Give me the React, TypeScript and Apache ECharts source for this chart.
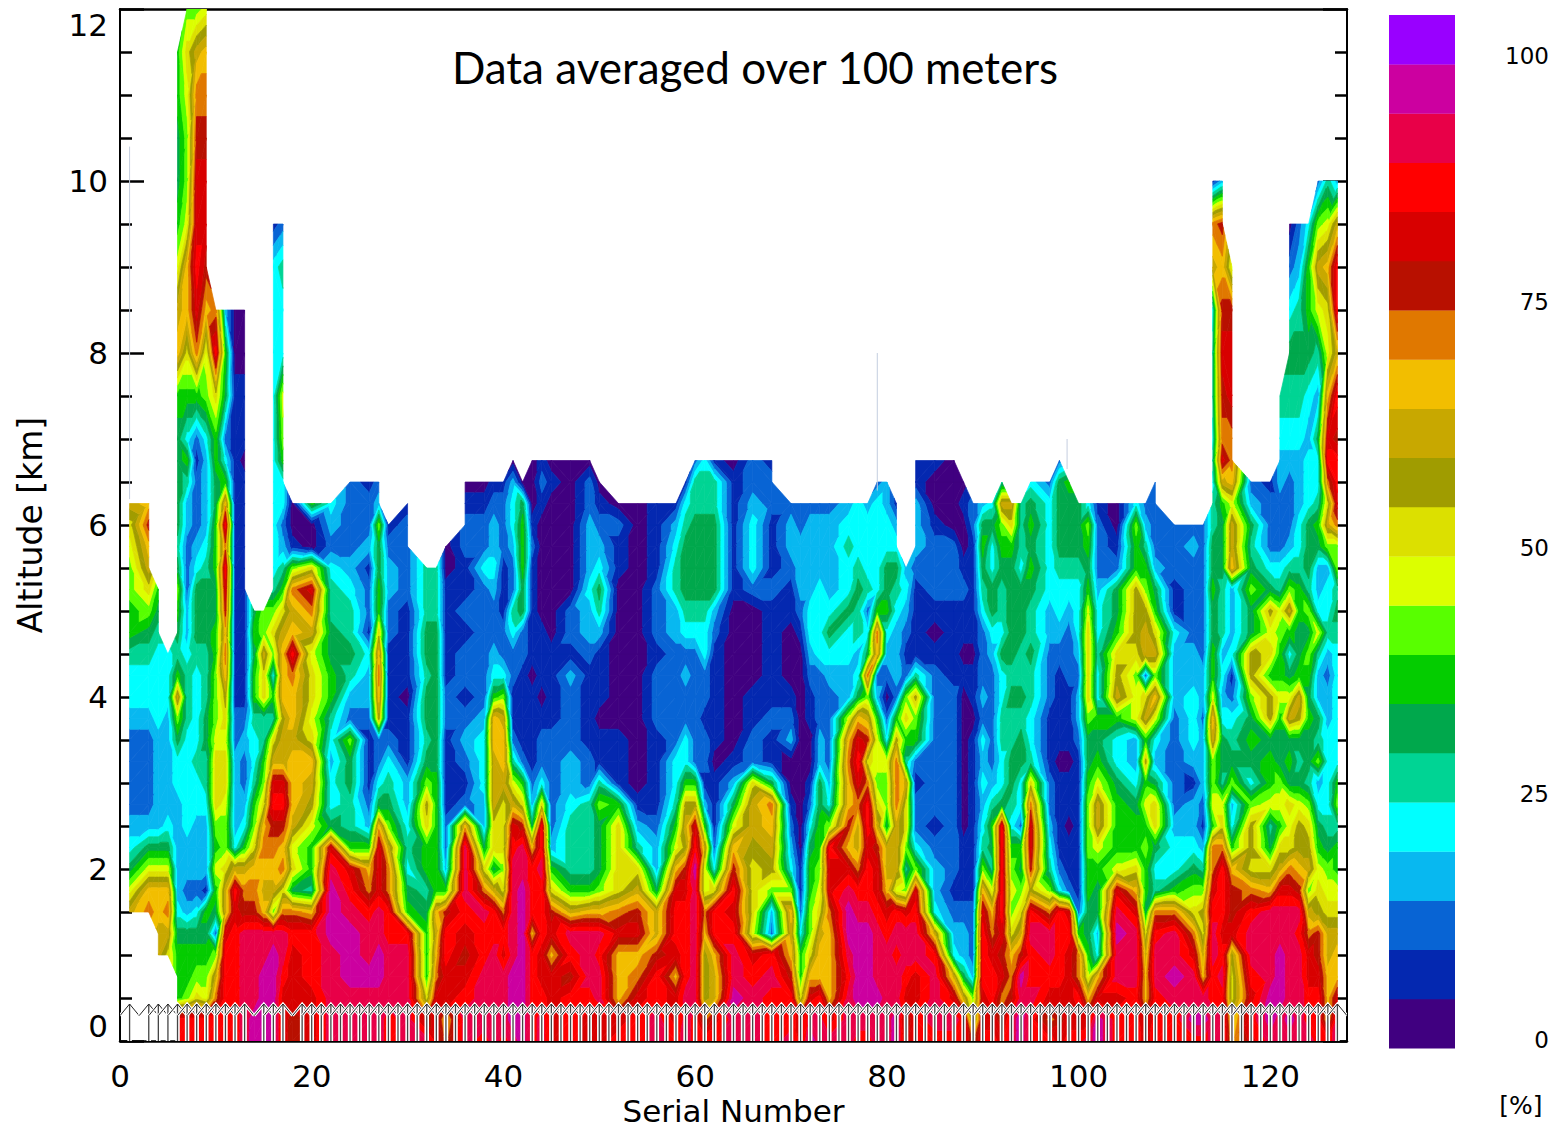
import React, { useEffect, useRef } from "react";
import * as echarts from "echarts";

// Altitude (km) of each row of the profiles below
const altitudes = [
  0, 0.25, 0.5, 0.75, 1, 1.25, 1.5, 1.75, 2, 2.25, 2.5, 2.75, 3, 3.25, 3.5, 3.75, 4, 4.25, 4.5, 4.75, 5, 5.25, 5.5,
  5.75, 6, 6.25, 6.5, 6.75, 7, 7.5, 8, 8.5, 9, 9.5, 10, 10.5, 11, 11.5, 12,
];

// Serial number of each profile
const serials = [
  1, 3, 4, 5, 6, 7, 8, 9, 10, 11, 12, 13, 14, 15, 16, 17, 18, 20, 22, 24, 26, 27, 28, 30, 32, 33, 34, 36, 38, 39, 40,
  41, 42, 43, 44, 45, 47, 49, 50, 52, 54, 56, 58, 59, 60, 61, 62, 64, 66, 68, 70, 71, 72, 73, 74, 76, 77, 78, 79, 80,
  81, 82, 83, 85, 87, 88, 89, 90, 91, 92, 93, 94, 95, 97, 98, 99, 100, 101, 102, 104, 106, 107, 108, 110, 112, 113,
  114, 115, 116, 118, 120, 121, 122, 123, 124, 125, 126, 127,
];

// One string per serial, bottom to top. a..u = colour class 0..20 (5 % wide), "." = no data
const profiles = [
  "......mjgedccccdeefhhiijkm",
  "......onjgdccccdeefgikmnpn",
  "....mmnnjgdddddeeeefgh",
  "....kmonjgedddddeee",
  "rrhhhgedddddeegimhfghigfggggghnmjhgghh",
  "rrihhgdcddeeeeefffeddcccddfhehknnjiijki",
  "rrkihgecdddeefeeeefgggedcccbchoqrqqpomi",
  "rrjihghbdddeffggfffgggfeddddeijnpqqponj",
  "rromicghjhikkkjiiihhgghhhgghhkro",
  "rrrrrqmmkiijkkjklnonpqrornhecghd",
  "rrrrrrqrmeddddccbbbbbbbbbbbbbbaa",
  "sssssspomhedccdcbbbbbbbbbbbabbaa",
  "ttssssponkihfeefhhghg",
  "ttttssnmnonkihffkkmii",
  "tttttsimnoprqmkfheikifeeeeeeeeeeeb",
  "qqqrssokonprqmmlnnnmkhfdceehijeefc",
  "ppqqqrogkjmnnnmnnornmoibaa",
  "qqqrrrnfhhjlmnkjkkjmoqkaah",
  "ssssstttsqgeedefhhggffecde",
  "ssstttsrqhffggicdfgffedcccc",
  "ssstssronhdcbbbcddebccbdccb",
  "ssstt" + "ssqqqngecclnonkhhggidc",
  "rrsssrroomigfecbbbbccddcb",
  "sssssrhgefeddbbbabbbbccccbba",
  "spkhhhgfhhkligfggfggfff",
  "qqqonmnhhhhhhgggggggfff",
  "onqqrrphdccbbbbccbbbbbaa",
  "ssrqpqrsssncbcdcbccbcbbccba",
  "rsssrrsokgddeeedcccccceccba",
  "sssssrrmgkkmmmnnhedccdeddcb",
  "rsssqrokikkkmnnmieccbbbcccb",
  "stttsssssrqmjfcbbccefccdeeda",
  "ttttttttsspkhcbbbbccgghhhga",
  "rrrrrnrrrngdcbbbbabbbbbcbaaa",
  "ssrqqrrrsrrkeccbabbbaaaaabcb",
  "qqqqnqpkhdcccccbbbbaaaaaaaba",
  "rrrprsmhfffeddcccdbccaaaaaaa",
  "qqrsssnhffffccbbbbcddedddcca",
  "qqssrsnigggifbbabbbdfgedcba",
  "rqnnnqokkkkhbbbaaaaaaabbca",
  "rrqonqpmkfdbaaaaaaaaaaaaaa",
  "ssrrpmmgddcbbbbcccbcccbbbb",
  "rqqnqrrqnjhfeecccccddffedb",
  "sssrrrrqplmlheeccdcefgggfeb",
  "rrsssssstrqlhccccccefggggffc",
  "rolllnojjmhdbccbcceefggggffe",
  "rqmmnrrkecbbbabbbbbcdggggffb",
  "sstssrqrpnjgdbaaaaaaabbbbbba",
  "sssrqjkkklmmkccbbaaaaceeedcc",
  "rrrsrcdilmnogbbcbbbbbcbbbccb",
  "srrpnmniedcbaadcbaaabbcddc",
  "qqkhhecbbaaaaaaaaaabcdddcc",
  "tsqnkiihhgecbaabbcdeeddddc",
  "ssrnnmkjihhggddccceeeedddc",
  "sqnnnnoqqriedccccdegeddddc",
  "sssrsttsqnpnnonjddeegeefed",
  "rsttttsrommoqrqngedffgfeee",
  "rsttttsrrqrrokpmiogecfeeed",
  "sstsssrqqpmkijjhdcnoheeeeec",
  "sssssrqnmmgiijecacdehggeedd",
  "ttssrsrjmmmooolhcdddefgedb",
  "poqrssqifikkmfhkicbcded",
  "rrqqssrqieccbchilfbbbbcdddbb",
  "rsssrmeddcbcccccccbabcccbaab",
  "rsqmedcbcccccccccbbbbcccaaaa",
  "rrmgddcbbbaaaaaaababbcbaaba",
  "okidcccbbbbbbbbabbabbbbbcc",
  "rqqrrrqnifededecdcccefghgd",
  "rqrrqonjfghfdcccccdeggeege",
  "qpoqpqrrrrrgeeffeegeffghimf",
  "ssponkijihefggffgfggggghkm",
  "ttstpmkighceeggfgffgggefff",
  "rrsrrsrlpqqokfeeffgffghghge",
  "roqrssoifedccbbbcccddeeeeec",
  "qpqrrrrecbbbbabbbbcdeefggggc",
  "rqqqqrqcbbabbabbbcccdefgggh",
  "rqroohcbbbbbbbcddcdeeefggg",
  "sqnjhgghhiiihggikkkkjhghie",
  "ttqnedgghjmmjhgheefeedcccb",
  "rrqsstsqjhhhgeehmlkhggcbaa",
  "rrrsssqnkhhgeddjjiklllhhie",
  "qpnnmkghhihjhlhmkcmmlihfdc",
  "rrrssrofegkkgdejnimkhgdcccc",
  "rrstssoheedcccccdddebbccc",
  "rtssqokigeddbdeeeddccccdc",
  "rtsnmklifdbcdddcddccccccc",
  "ssrrssrqoohjiimnjhhgghggffefeffemob",
  "ssrsrqrrrokjfggededfffggghmqopqpnpd",
  "nmkklqppnhedigfecbedddnmmjnooqqpj",
  "qrqrssrokllieghgillggigfgdc",
  "sttssssnkgfjhhgllhkjlgecccb",
  "sstttssqmkhjigghjhhijfecccddef",
  "stsssssqokjkghgmjgehmifdcccdefgeca",
  "sssssrspnlljgfglmhgghhfeedddefgfdc",
  "srrqqomimlkifgghghigifgggeeedeghhe",
  "rrrqpplkjhgedifgddfjeddghfeegdfjmic",
  "rnnnmmkjigfeeeeddcdfeedimkorqnjknjf",
  "ssqnnmkjhhfiheeeeeefgfiioqrrprmrrmd",
];

// Colour classes, bottom to top of the colour bar
const bandColors = [
  "#400080", "#0428B0", "#0864D4", "#08B8F0", "#00FFFF", "#00D494", "#00A84C", "#04CC00", "#58FF00", "#DCFF00",
  "#DCE000", "#A09C00", "#C8A800", "#F2BE00", "#E07800", "#B81000", "#D80000", "#FF0000", "#E80048", "#CC00A0",
  "#9900FF",
];
const barLabels = ["0", "25", "50", "75", "100"];

// Serial numbers that carry a launch marker (2, 14 and 18 have none)
const missingMarkers = [2, 14, 18];
const lastSerial = 127;
// Faint single-sample spikes: [serial, from km, to km]
const thinSpikes = [
  [1, 6.3, 10.4],
  [79, 6.4, 8],
  [98.8, 6.65, 7],
];

type Poly = { band: number; pts: number[][] };

function clipBand(tri: number[][], lo: number, hi: number): number[][] {
  const clip = (poly: number[][], keep: (v: number) => boolean, lim: number) => {
    const out: number[][] = [];
    for (let i = 0; i < poly.length; i++) {
      const a = poly[i];
      const b = poly[(i + 1) % poly.length];
      const ka = keep(a[2]);
      const kb = keep(b[2]);
      if (ka) out.push(a);
      if (ka !== kb) {
        const t = (lim - a[2]) / (b[2] - a[2]);
        out.push([a[0] + (b[0] - a[0]) * t, a[1] + (b[1] - a[1]) * t, lim]);
      }
    }
    return out;
  };
  let p = clip(tri, (v) => v >= lo, lo);
  if (p.length) p = clip(p, (v) => v < hi, hi);
  return p;
}

function buildPolys(): Poly[] {
  const val = (c: number, r: number): number | null => {
    const ch = profiles[c][r];
    if (!ch || ch === ".") return null;
    return (ch.charCodeAt(0) - 97) * 5 + 1.7;
  };
  const polys: Poly[] = [];
  const addTri = (tri: number[][]) => {
    const vs = tri.map((t) => t[2]);
    const min = Math.min(...vs);
    const max = Math.max(...vs);
    for (let b = 0; b < bandColors.length; b++) {
      const lo = b === 0 ? -99 : b * 5 - 0.8;
      const hi = b === bandColors.length - 1 ? 999 : b * 5 + 4.2;
      if (max < lo || min >= hi) continue;
      const pts = clipBand(tri, lo, hi);
      if (pts.length >= 3) polys.push({ band: b, pts });
    }
  };
  for (let c = 0; c < serials.length - 1; c++) {
    for (let r = 0; r < altitudes.length - 1; r++) {
      const v00 = val(c, r);
      const v10 = val(c + 1, r);
      const v01 = val(c, r + 1);
      const v11 = val(c + 1, r + 1);
      const A = v00 === null ? null : [serials[c], altitudes[r], v00];
      const B = v10 === null ? null : [serials[c + 1], altitudes[r], v10];
      const C = v01 === null ? null : [serials[c], altitudes[r + 1], v01];
      const D = v11 === null ? null : [serials[c + 1], altitudes[r + 1], v11];
      const valid = [A, B, D, C].filter(Boolean) as number[][];
      if (valid.length < 3) continue;
      if (valid.length === 3) {
        addTri(valid);
        continue;
      }
      if (Math.abs(A![2] - D![2]) <= Math.abs(B![2] - C![2])) {
        addTri([A!, B!, D!]);
        addTri([A!, D!, C!]);
      } else {
        addTri([A!, B!, C!]);
        addTri([B!, D!, C!]);
      }
    }
  }
  return polys;
}

const AXIS_FONT = "'DejaVu Sans'";

export default function App() {
  const ref = useRef<HTMLDivElement>(null);
  useEffect(() => {
    document.body.style.margin = "0";
    document.body.style.overflow = "hidden";
    const chart = echarts.init(ref.current!, null, { renderer: "svg" });
    const polys = buildPolys();
    const markers: number[][] = [];
    for (let s = 1; s <= lastSerial; s++) if (!missingMarkers.includes(s)) markers.push([s, 0]);

    const barTop = 15;
    const bandH = 49.2;
    const barRects = bandColors.map((color, i) => ({
      type: "rect",
      silent: true,
      shape: { x: 1389, y: barTop + (bandColors.length - 1 - i) * bandH, width: 66, height: bandH + 0.3 },
      style: { fill: color },
    }));
    const barTexts = barLabels.map((t, i) => ({
      type: "text",
      silent: true,
      style: {
        text: t,
        x: 1549,
        y: 1040 - i * 246,
        fill: "#000",
        font: `23px ${AXIS_FONT}`,
        textAlign: "right",
        textVerticalAlign: "middle",
      },
    }));

    const yBase = {
      type: "value",
      min: 0,
      max: 12,
      interval: 2,
      splitLine: { show: false },
      axisLine: { show: true, onZero: false, lineStyle: { color: "#000", width: 2 } },
      axisTick: { show: true, inside: true, length: 24, lineStyle: { color: "#000", width: 2.5 } },
      minorTick: { show: true, splitNumber: 4, length: 12, lineStyle: { color: "#000", width: 2.5 } },
    };
    const xBase = {
      type: "value",
      min: 0,
      max: 128,
      interval: 20,
      splitLine: { show: false },
      axisLine: { show: true, onZero: false, lineStyle: { color: "#000", width: 2.5 } },
      axisTick: { show: false },
    };

    chart.setOption({
      animation: false,
      backgroundColor: "#fff",
      tooltip: { show: false },
      grid: { left: 120, top: 9, width: 1227, height: 1032, containLabel: false, outerBoundsMode: "none" },
      xAxis: [
        {
          ...xBase,
          position: "bottom",
          name: "Serial Number",
          nameLocation: "middle",
          nameGap: 54,
          nameTextStyle: { fontFamily: AXIS_FONT, fontSize: 31, color: "#000" },
          axisLabel: {
            show: true,
            showMaxLabel: false,
            margin: 19,
            fontFamily: AXIS_FONT,
            fontSize: 31,
            color: "#000",
          },
        },
        { ...xBase, position: "top", axisLabel: { show: false } },
      ],
      yAxis: [
        {
          ...yBase,
          position: "left",
          name: "Altitude [km]",
          nameLocation: "middle",
          nameGap: 73,
          nameTextStyle: { fontFamily: AXIS_FONT, fontSize: 33, color: "#000" },
          axisLabel: {
            show: true,
            margin: 12,
            fontFamily: AXIS_FONT,
            fontSize: 31,
            color: "#000",
            verticalAlignMinLabel: "bottom",
            verticalAlignMaxLabel: "top",
          },
        },
        { ...yBase, position: "right", axisLabel: { show: false } },
      ],
      series: [
        {
          type: "custom",
          coordinateSystem: "cartesian2d",
          silent: true,
          clip: true,
          progressive: 0,
          z: 2,
          data: polys.map((_, i) => [i, 0]),
          renderItem: (params: any, api: any) => {
            const p = polys[params.dataIndex];
            const color = bandColors[p.band];
            return {
              type: "polygon",
              shape: { points: p.pts.map((q) => api.coord([q[0], q[1]])) },
              style: { fill: color, stroke: color, lineWidth: 0.7 },
            };
          },
        },
        {
          type: "custom",
          coordinateSystem: "cartesian2d",
          silent: true,
          clip: true,
          progressive: 0,
          z: 3,
          data: thinSpikes.map((s) => [s[0], s[1], s[2]]),
          encode: { x: 0, y: [1, 2] },
          renderItem: (_: any, api: any) => {
            const a = api.coord([api.value(0), api.value(1)]);
            const b = api.coord([api.value(0), api.value(2)]);
            return {
              type: "line",
              shape: { x1: a[0], y1: a[1], x2: b[0], y2: b[1] },
              style: { stroke: "#C4CEDF", lineWidth: 1 },
            };
          },
        },
        {
          type: "custom",
          coordinateSystem: "cartesian2d",
          silent: true,
          clip: true,
          progressive: 0,
          z: 4,
          data: markers,
          encode: { x: 0, y: 1 },
          renderItem: (_: any, api: any) => {
            const s = api.value(0);
            const tip = api.coord([s, 0.43]);
            const l = api.coord([s - 1, 0.295]);
            const r = api.coord([s + 1, 0.295]);
            const foot = api.coord([s, 0]);
            const stem = { x1: tip[0], y1: tip[1], x2: foot[0], y2: foot[1] };
            const wing = { points: [l, tip, r] };
            return {
              type: "group",
              children: [
                { type: "line", shape: stem, style: { stroke: "#fff", lineWidth: 4.5 } },
                { type: "polyline", shape: wing, style: { stroke: "#fff", fill: null, lineWidth: 3 } },
                { type: "line", shape: stem, style: { stroke: "#444", lineWidth: 1.3 } },
                { type: "polyline", shape: wing, style: { stroke: "#222", fill: null, lineWidth: 1 } },
              ],
            };
          },
        },
      ],
      graphic: [
        {
          type: "text",
          silent: true,
          z: 10,
          style: {
            text: "Data averaged over 100 meters",
            x: 755,
            y: 67,
            fill: "#000",
            font: "44px Lato",
            textAlign: "center",
            textVerticalAlign: "middle",
          },
        },
        ...barRects,
        ...barTexts,
        {
          type: "text",
          silent: true,
          style: {
            text: "[%]",
            x: 1521,
            y: 1105,
            fill: "#000",
            font: `25px ${AXIS_FONT}`,
            textAlign: "center",
            textVerticalAlign: "middle",
          },
        },
      ],
    });
    return () => chart.dispose();
  }, []);
  return <div ref={ref} style={{ width: 1564, height: 1132 }} />;
}
